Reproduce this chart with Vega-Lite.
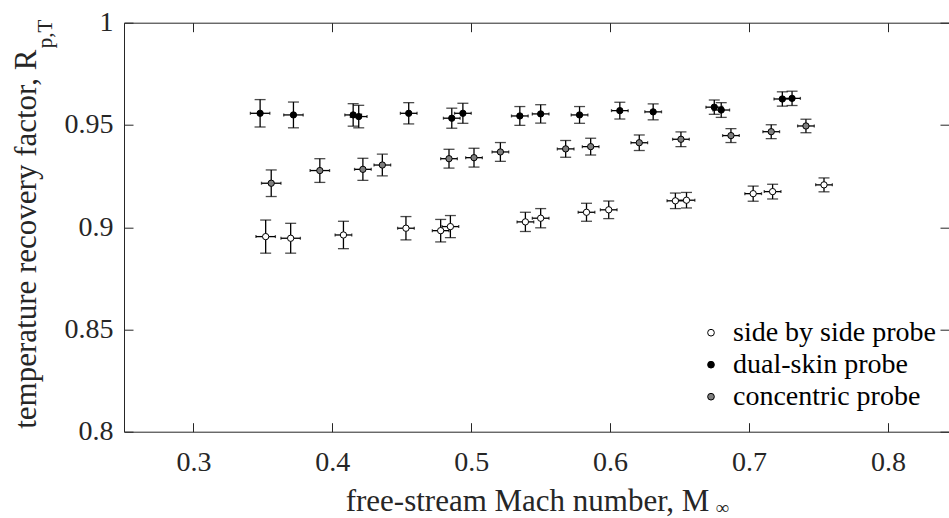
{
  "$schema": "https://vega.github.io/schema/vega-lite/v6.json",
  "width": 825,
  "height": 409,
  "autosize": {"type": "none"},
  "padding": {"left": 124, "top": 22.7, "right": 0, "bottom": 86.3},
  "background": "white",
  "config": {
    "font": "Liberation Serif",
    "view": {"stroke": null},
    "axis": {
      "grid": false,
      "domainColor": "#262626",
      "tickColor": "#262626",
      "labelColor": "#262626",
      "titleColor": "#262626",
      "labelFont": "Liberation Serif",
      "titleFont": "Liberation Serif",
      "labelFontSize": 28,
      "titleFontSize": 31,
      "titleFontWeight": "normal",
      "domainWidth": 1,
      "tickWidth": 1,
      "tickSize": -9
    }
  },
  "data": {
    "values": [
      {"probe": "dual-skin probe", "M": 0.348, "R": 0.9557, "dR": 0.0067, "dM": 0.007},
      {"probe": "dual-skin probe", "M": 0.372, "R": 0.9549, "dR": 0.0063, "dM": 0.007},
      {"probe": "dual-skin probe", "M": 0.415, "R": 0.9549, "dR": 0.0055, "dM": 0.006},
      {"probe": "dual-skin probe", "M": 0.419, "R": 0.9541, "dR": 0.0055, "dM": 0.006},
      {"probe": "dual-skin probe", "M": 0.455, "R": 0.9557, "dR": 0.0052, "dM": 0.006},
      {"probe": "dual-skin probe", "M": 0.486, "R": 0.9533, "dR": 0.0049, "dM": 0.006},
      {"probe": "dual-skin probe", "M": 0.494, "R": 0.9557, "dR": 0.0049, "dM": 0.006},
      {"probe": "dual-skin probe", "M": 0.535, "R": 0.9544, "dR": 0.0046, "dM": 0.006},
      {"probe": "dual-skin probe", "M": 0.550, "R": 0.9554, "dR": 0.0045, "dM": 0.006},
      {"probe": "dual-skin probe", "M": 0.578, "R": 0.9549, "dR": 0.0041, "dM": 0.006},
      {"probe": "dual-skin probe", "M": 0.607, "R": 0.9570, "dR": 0.0041, "dM": 0.006},
      {"probe": "dual-skin probe", "M": 0.631, "R": 0.9564, "dR": 0.0039, "dM": 0.006},
      {"probe": "dual-skin probe", "M": 0.675, "R": 0.9587, "dR": 0.0035, "dM": 0.006},
      {"probe": "dual-skin probe", "M": 0.680, "R": 0.9573, "dR": 0.0036, "dM": 0.006},
      {"probe": "dual-skin probe", "M": 0.724, "R": 0.9627, "dR": 0.0035, "dM": 0.006},
      {"probe": "dual-skin probe", "M": 0.731, "R": 0.9630, "dR": 0.0035, "dM": 0.006},
      {"probe": "concentric probe", "M": 0.356, "R": 0.9215, "dR": 0.0065, "dM": 0.007},
      {"probe": "concentric probe", "M": 0.391, "R": 0.9277, "dR": 0.0058, "dM": 0.007},
      {"probe": "concentric probe", "M": 0.422, "R": 0.9283, "dR": 0.0054, "dM": 0.006},
      {"probe": "concentric probe", "M": 0.436, "R": 0.9304, "dR": 0.0053, "dM": 0.006},
      {"probe": "concentric probe", "M": 0.484, "R": 0.9335, "dR": 0.0046, "dM": 0.006},
      {"probe": "concentric probe", "M": 0.502, "R": 0.9340, "dR": 0.0046, "dM": 0.006},
      {"probe": "concentric probe", "M": 0.521, "R": 0.9368, "dR": 0.0046, "dM": 0.006},
      {"probe": "concentric probe", "M": 0.568, "R": 0.9383, "dR": 0.0041, "dM": 0.006},
      {"probe": "concentric probe", "M": 0.586, "R": 0.9394, "dR": 0.0041, "dM": 0.006},
      {"probe": "concentric probe", "M": 0.621, "R": 0.9413, "dR": 0.0038, "dM": 0.006},
      {"probe": "concentric probe", "M": 0.651, "R": 0.9430, "dR": 0.0036, "dM": 0.006},
      {"probe": "concentric probe", "M": 0.687, "R": 0.9448, "dR": 0.0034, "dM": 0.006},
      {"probe": "concentric probe", "M": 0.716, "R": 0.9467, "dR": 0.0034, "dM": 0.006},
      {"probe": "concentric probe", "M": 0.741, "R": 0.9495, "dR": 0.0033, "dM": 0.006},
      {"probe": "side by side probe", "M": 0.352, "R": 0.8954, "dR": 0.0081, "dM": 0.007},
      {"probe": "side by side probe", "M": 0.370, "R": 0.8946, "dR": 0.0073, "dM": 0.007},
      {"probe": "side by side probe", "M": 0.408, "R": 0.8962, "dR": 0.0067, "dM": 0.006},
      {"probe": "side by side probe", "M": 0.453, "R": 0.8995, "dR": 0.0057, "dM": 0.006},
      {"probe": "side by side probe", "M": 0.478, "R": 0.8983, "dR": 0.0055, "dM": 0.006},
      {"probe": "side by side probe", "M": 0.485, "R": 0.9003, "dR": 0.0054, "dM": 0.006},
      {"probe": "side by side probe", "M": 0.539, "R": 0.9026, "dR": 0.0047, "dM": 0.006},
      {"probe": "side by side probe", "M": 0.550, "R": 0.9044, "dR": 0.0047, "dM": 0.006},
      {"probe": "side by side probe", "M": 0.583, "R": 0.9073, "dR": 0.0044, "dM": 0.006},
      {"probe": "side by side probe", "M": 0.599, "R": 0.9085, "dR": 0.0043, "dM": 0.006},
      {"probe": "side by side probe", "M": 0.647, "R": 0.9129, "dR": 0.0038, "dM": 0.006},
      {"probe": "side by side probe", "M": 0.655, "R": 0.9132, "dR": 0.0038, "dM": 0.006},
      {"probe": "side by side probe", "M": 0.703, "R": 0.9164, "dR": 0.0037, "dM": 0.006},
      {"probe": "side by side probe", "M": 0.717, "R": 0.9174, "dR": 0.0036, "dM": 0.006},
      {"probe": "side by side probe", "M": 0.754, "R": 0.9207, "dR": 0.0034, "dM": 0.006}
    ]
  },
  "layer": [
    {
      "mark": {"type": "errorbar", "color": "black", "thickness": 1.3, "ticks": {"size": 11}},
      "encoding": {
        "x": {"field": "M", "type": "quantitative", "scale": {"domain": [0.25, 0.844], "nice": false, "zero": false},
          "axis": {"orient": "top", "values": [0.3, 0.4, 0.5, 0.6, 0.7, 0.8], "labels": false, "title": null, "domain": true}},
        "y": {"field": "R", "type": "quantitative", "scale": {"domain": [0.8, 1], "nice": false, "zero": false},
          "axis": {"orient": "right", "values": [0.8, 0.85, 0.9, 0.95, 1], "labels": false, "title": null, "domain": false}},
        "yError": {"field": "dR"}
      }
    },
    {
      "mark": {"type": "errorbar", "color": "black", "thickness": 1.3, "ticks": {"size": 3}},
      "encoding": {
        "y": {"field": "R", "type": "quantitative", "scale": {"domain": [0.8, 1], "nice": false, "zero": false},
          "axis": {"orient": "left", "labels": false, "ticks": false, "domain": false, "title": "p,T", "titleFontSize": 21, "titleAngle": -90, "titleAlign": "left", "titleBaseline": "alphabetic", "titleX": -73, "titleY": 25}},
        "x": {"field": "M", "type": "quantitative", "scale": {"domain": [0.25, 0.844], "nice": false, "zero": false},
          "axis": {"orient": "bottom", "labels": false, "ticks": false, "domain": false, "title": "∞", "titleFontSize": 19, "titleAlign": "left", "titleBaseline": "alphabetic", "titleX": 591, "titleY": 82}},
        "xError": {"field": "dM"}
      }
    },
    {
      "mark": {"type": "circle", "size": 40, "stroke": "black", "strokeWidth": 1, "opacity": 1},
      "encoding": {
        "x": {"field": "M", "type": "quantitative", "scale": {"domain": [0.25, 0.844], "nice": false, "zero": false},
          "axis": {"orient": "bottom", "values": [0.3, 0.4, 0.5, 0.6, 0.7, 0.8], "format": "~g", "labelPadding": 26,
            "title": "free-stream Mach number, M", "titleAlign": "center", "titleBaseline": "alphabetic", "titleX": 403, "titleY": 79}},
        "y": {"field": "R", "type": "quantitative", "scale": {"domain": [0.8, 1], "nice": false, "zero": false},
          "axis": {"orient": "left", "values": [0.8, 0.85, 0.9, 0.95, 1], "format": "~g", "labelPadding": 20,
            "title": "temperature recovery factor, R", "titleAngle": -90, "titleAlign": "center", "titleBaseline": "alphabetic", "titleX": -89, "titleY": 216}},
        "fill": {"field": "probe", "type": "nominal",
          "scale": {"domain": ["side by side probe", "dual-skin probe", "concentric probe"], "range": ["white", "black", "#7f7f7f"]},
          "legend": {"orient": "none", "legendX": 573, "legendY": 296, "title": null, "padding": 0,
            "labelFont": "Liberation Serif", "labelFontSize": 28, "labelColor": "black", "labelOffset": 8, "labelLimit": 400,
            "symbolType": "circle", "symbolSize": 45, "symbolStrokeColor": "black", "symbolStrokeWidth": 1, "symbolOpacity": 1,
            "rowPadding": 4}}
      }
    }
  ],
  "resolve": {"axis": {"x": "independent", "y": "independent"}}
}
